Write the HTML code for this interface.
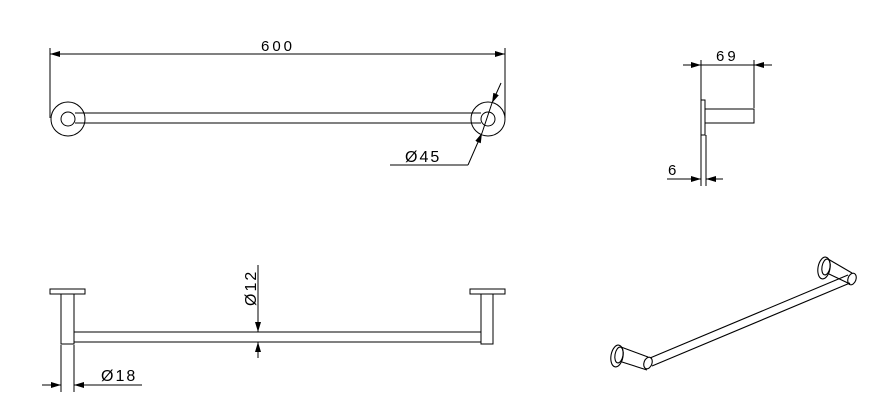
<!DOCTYPE html>
<html><head><style>body{margin:0;background:#fff}svg{display:block}text{font-family:"Liberation Sans",sans-serif;fill:#000}</style></head>
<body>
<svg width="896" height="405" viewBox="0 0 896 405" xmlns="http://www.w3.org/2000/svg" fill="none" stroke="#000" stroke-width="1">
<defs><marker id="a" viewBox="0 0 10 6" refX="10" refY="3" markerWidth="10" markerHeight="6" orient="auto-start-reverse" markerUnits="userSpaceOnUse"><path d="M0,0L10,3L0,6z" fill="#000" stroke="none"/></marker></defs>
<!-- top view -->
<line x1="50" y1="48" x2="50" y2="118"/><line x1="505" y1="48" x2="505" y2="118"/>
<line x1="50" y1="54" x2="505" y2="54" marker-start="url(#a)" marker-end="url(#a)"/>
<text x="261" y="51" font-size="15" stroke="none" letter-spacing="3">600</text>
<circle cx="68" cy="119" r="17"/><circle cx="68" cy="119" r="7"/>
<circle cx="488" cy="119" r="17"/><circle cx="488" cy="119" r="7"/>
<line x1="75" y1="113" x2="481" y2="113"/><line x1="75" y1="123" x2="481" y2="123"/>
<line x1="501" y1="83" x2="492" y2="103" marker-end="url(#a)"/>
<line x1="468" y1="165" x2="482" y2="133" marker-end="url(#a)"/>
<line x1="482" y1="133" x2="492" y2="103"/>
<line x1="390" y1="165" x2="468" y2="165"/>
<text x="405" y="162" font-size="16" stroke="none" letter-spacing="2">Ø45</text>
<!-- side view -->
<line x1="701" y1="60" x2="701" y2="186"/><line x1="754" y1="60" x2="754" y2="108"/>
<line x1="683" y1="65" x2="701" y2="65" marker-end="url(#a)"/><line x1="701" y1="65" x2="754" y2="65"/><line x1="772" y1="65" x2="754" y2="65" marker-end="url(#a)"/>
<text x="716" y="61" font-size="15" stroke="none" letter-spacing="3">69</text>
<rect x="701" y="100" width="4" height="35" fill="#fff"/>
<rect x="705" y="109" width="49" height="14"/>
<line x1="706" y1="135" x2="706" y2="186"/>
<line x1="667" y1="179" x2="701" y2="179" marker-end="url(#a)"/><line x1="723" y1="179" x2="706" y2="179" marker-end="url(#a)"/>
<text x="668" y="175" font-size="15" stroke="none">6</text>
<!-- front view -->
<rect x="50" y="289" width="35" height="5"/><rect x="61" y="294" width="13" height="50"/>
<rect x="470" y="289" width="35" height="5"/><rect x="481" y="294" width="12" height="50"/>
<line x1="74" y1="332" x2="481" y2="332"/><line x1="74" y1="342" x2="481" y2="342"/>
<line x1="258" y1="265" x2="258" y2="332" marker-end="url(#a)"/>
<line x1="258" y1="358" x2="258" y2="342" marker-end="url(#a)"/>
<text transform="translate(256,306) rotate(-90)" font-size="16" stroke="none" letter-spacing="2">Ø12</text>
<line x1="61" y1="345" x2="61" y2="392"/><line x1="74" y1="345" x2="74" y2="392"/>
<line x1="42" y1="385" x2="61" y2="385" marker-end="url(#a)"/>
<line x1="142" y1="385" x2="74" y2="385"/><line x1="90" y1="385" x2="74" y2="385" marker-end="url(#a)"/>
<text x="101" y="381" font-size="16" stroke="none" letter-spacing="2">Ø18</text>
<!-- iso -->
<g stroke-width="1.1">
<ellipse cx="617" cy="356" rx="6" ry="11" transform="rotate(10 617 356)"/>
<ellipse cx="619" cy="355" rx="4" ry="8" transform="rotate(10 619 355)"/>
<line x1="621" y1="347" x2="648" y2="357"/><line x1="622" y1="362" x2="647" y2="370"/>
<ellipse cx="648" cy="363" rx="4" ry="6" transform="rotate(20 648 363)"/>
<line x1="650" y1="358" x2="848" y2="275"/><line x1="652" y1="366" x2="850" y2="283"/>
<ellipse cx="824" cy="268" rx="6" ry="11" transform="rotate(10 824 268)"/>
<ellipse cx="826" cy="267" rx="4" ry="8" transform="rotate(10 826 267)"/>
<line x1="828" y1="259" x2="852" y2="273"/><line x1="829" y1="274" x2="850" y2="284"/>
<ellipse cx="852" cy="279" rx="4" ry="6" transform="rotate(20 852 279)"/>
</g>
</svg>
</body></html>
